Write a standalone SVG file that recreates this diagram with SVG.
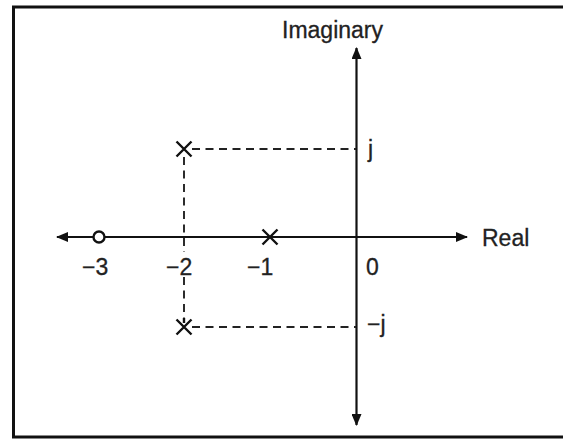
<svg xmlns="http://www.w3.org/2000/svg" width="563" height="441" viewBox="0 0 563 441">
<style>
.axis{stroke:#111;stroke-width:2.2;fill:none}
.dash{stroke:#222;stroke-width:1.9;stroke-dasharray:8 5.5;fill:none}
.mark{stroke:#111;stroke-width:2.4;fill:none}
text{font-family:"Liberation Sans",Arial,sans-serif;font-size:23px;fill:#222;stroke:#222;stroke-width:0.3}
</style>
<defs>
<marker id="ah" viewBox="0 0 12 10" refX="11" refY="5" markerWidth="12" markerHeight="10" markerUnits="userSpaceOnUse" orient="auto-start-reverse">
<path d="M0,0 L12,5 L0,10 Z" fill="#111"/>
</marker>
</defs>
<rect x="0" y="0" width="563" height="441" fill="#fff"/>
<rect x="13.5" y="7" width="560" height="430" fill="none" stroke="#111" stroke-width="3"/>
<g id="connectors">
<line class="axis" x1="57" y1="237" x2="467" y2="237" marker-start="url(#ah)" marker-end="url(#ah)"/>
<line class="axis" x1="356.5" y1="48" x2="356.5" y2="425" marker-start="url(#ah)" marker-end="url(#ah)"/>
<line class="dash" x1="192" y1="149" x2="356" y2="149"/>
<line class="dash" x1="192" y1="327" x2="356" y2="327"/>
<line class="dash" x1="184" y1="157" x2="184" y2="252"/>
<line class="dash" x1="184" y1="277" x2="184" y2="320"/>
</g>
<g id="pole-upper"><path class="mark" d="M176.5,141.5 L191.5,156.5 M191.5,141.5 L176.5,156.5"/></g>
<g id="pole-lower"><path class="mark" d="M176.5,319.5 L191.5,334.5 M191.5,319.5 L176.5,334.5 M184,318 L184,323"/></g>
<g id="pole-real"><path class="mark" d="M262.5,229.5 L277.5,244.5 M277.5,229.5 L262.5,244.5"/></g>
<g id="zero"><circle cx="99" cy="237" r="5.5" fill="#fff" stroke="#111" stroke-width="2.4"/></g>
<g id="labels">
<text x="282" y="38">Imaginary</text>
<text x="482" y="246">Real</text>
<text x="82" y="275">−3</text>
<text x="166" y="275">−2</text>
<text x="247" y="275">−1</text>
<text x="366" y="275">0</text>
<text x="368" y="157">j</text>
<text x="367" y="332">−j</text>
</g>
</svg>
